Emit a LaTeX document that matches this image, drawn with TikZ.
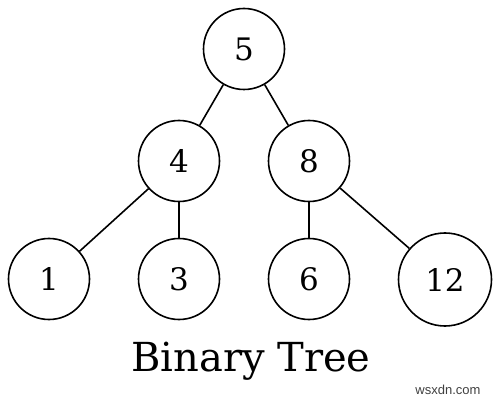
\documentclass[tikz,border=0pt]{standalone}
\usepackage{fontspec}
\setmainfont{DejaVu Serif}
\newfontfamily\wmfont{Liberation Sans}
\begin{document}
\begin{tikzpicture}[x=1pt,y=-1pt,
  tnode/.style={circle,draw,line width=1.6pt,inner sep=0pt,minimum size=81pt,font=\fontsize{31}{31}\selectfont},
  edge/.style={line width=1.6pt}]
\useasboundingbox (0,0) rectangle (501,401);
\node[tnode] (n5) at (244,49) {5};
\node[tnode] (n4) at (179,161) {4};
\node[tnode] (n8) at (309,161) {8};
\node[tnode] (n1) at (49,279) {1};
\node[tnode] (n3) at (179,279) {3};
\node[tnode] (n6) at (309,279) {6};
\node[tnode,minimum size=93pt] (n12) at (445,279.5) {12};
\draw[edge] (n5) -- (n4);
\draw[edge] (n5) -- (n8);
\draw[edge] (n4) -- (n1);
\draw[edge] (n4) -- (n3);
\draw[edge] (n8) -- (n6);
\draw[edge] (n8) -- (n12);
\node[font=\fontsize{40}{40}\selectfont,anchor=base] (title) at (251,371) {Binary Tree};
\node[font=\wmfont\fontsize{13}{13}\selectfont,text=black!75,anchor=base] (wm) at (448,394) {wsxdn.com};
\end{tikzpicture}
\end{document}
